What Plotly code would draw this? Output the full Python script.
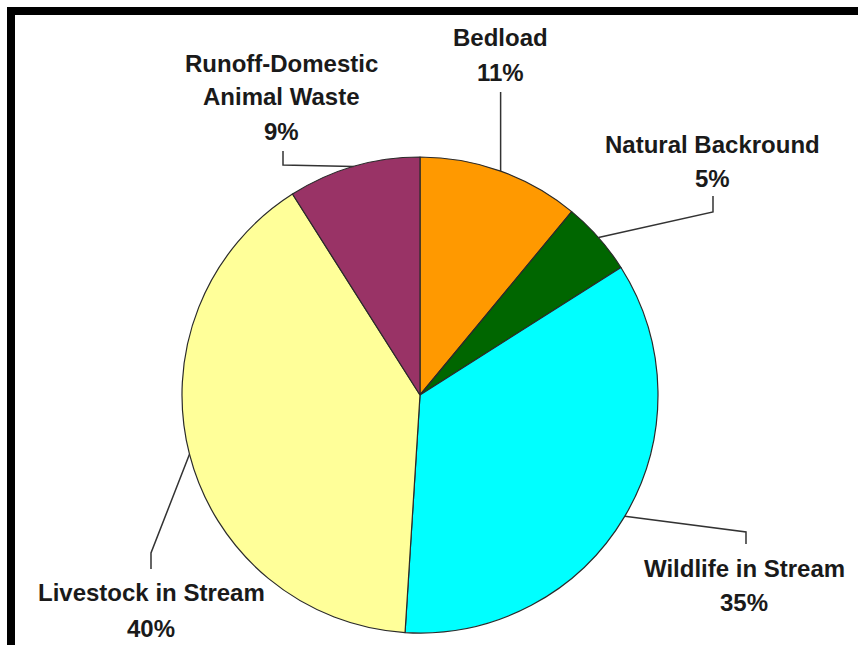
import math
import plotly.graph_objects as go

# ---- data ----
categories = ["Bedload", "Natural Backround", "Wildlife in Stream",
              "Livestock in Stream", "Runoff-Domestic Animal Waste"]
values = [11, 5, 35, 40, 9]
colors = ["#FF9900", "#006600", "#00FFFF", "#FFFF99", "#993366"]
label_text = [["Bedload"], ["Natural Backround"], ["Wildlife in Stream"],
              ["Livestock in Stream"], ["Runoff-Domestic", "Animal Waste"]]

# ---- layout constants (pixels) ----
W, H = 858, 645
CX, CY, R = 420, 395, 238
# label block: center x, y of first line center, line spacing
label_pos = [(500, 38, 35), (712, 144, 34), (744, 568, 34),
             (151, 592, 36), (281, 63, 34)]
# leader path after the anchor on the pie edge (elbow/end points)
leader_pts = [[None, 92], [(713, 212), (713, 196)], [(746, 532), (746, 544)],
              [(151, 553), (151, 569)], [(283, 165), (283, 151)]]


def px(x):
    return x / W


def py(y):
    return 1 - y / H


fig = go.Figure()
fig.add_trace(go.Pie(
    labels=categories, values=values, sort=False, direction="clockwise",
    rotation=0, textinfo="none", hoverinfo="label+percent",
    marker=dict(colors=colors, line=dict(color="#2a2a2a", width=1.2)),
    domain=dict(x=[px(CX - R), px(CX + R)], y=[py(CY + R), py(CY - R)]),
    showlegend=False,
))

total = sum(values)
shapes = []
annotations = []
cum = 0
FONT = dict(family="Liberation Sans, Arial, sans-serif", size=24, color="#1a1a1a")
for i, v in enumerate(values):
    mid = (cum + v / 2) / total * 2 * math.pi
    cum += v
    ax = CX + R * math.sin(mid)
    ay = CY - R * math.cos(mid)
    pts = [(ax, ay)]
    lp = leader_pts[i]
    if lp[0] is None:
        pts.append((ax, lp[1]))
    else:
        pts.extend(lp)
    path = "M " + " L ".join(f"{px(x):.5f},{py(y):.5f}" for x, y in pts)
    shapes.append(dict(type="path", xref="paper", yref="paper", path=path,
                       line=dict(color="#333333", width=1.5)))
    cx, y0, dy = label_pos[i]
    lines = label_text[i] + [f"{round(v / total * 100)}%"]
    for k, t in enumerate(lines):
        annotations.append(dict(
            x=px(cx), y=py(y0 + k * dy), xref="paper", yref="paper",
            text=f"<b>{t}</b>", showarrow=False, xanchor="center",
            yanchor="middle", font=FONT))

# black frame (top and left edges)
shapes.append(dict(type="rect", xref="paper", yref="paper",
                   x0=px(7), x1=px(W), y0=py(15), y1=py(7),
                   fillcolor="black", line=dict(width=0), layer="above"))
shapes.append(dict(type="rect", xref="paper", yref="paper",
                   x0=px(7), x1=px(15), y0=py(H), y1=py(7),
                   fillcolor="black", line=dict(width=0), layer="above"))

fig.update_layout(
    width=W, height=H, margin=dict(l=0, r=0, t=0, b=0),
    paper_bgcolor="white", plot_bgcolor="white",
    shapes=shapes, annotations=annotations,
)
fig.write_html("out.html")
